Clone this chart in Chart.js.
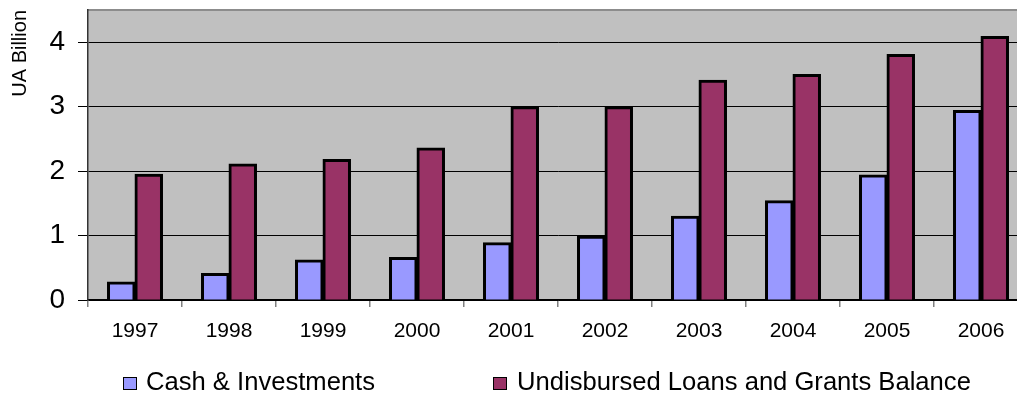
<!DOCTYPE html>
<html>
<head>
<meta charset="utf-8">
<script src="https://cdn.jsdelivr.net/npm/chart.js@4"></script>
<style>
    html, body {
        margin: 0;
        padding: 0;
        background: #fff;
        overflow: hidden;
    }

    #wrap {
        position: relative;
        width: 1030px;
        height: 394px;
    }

    .key-box {
        position: absolute;
        width: 12px;
        height: 11px;
        border: 1.5px solid #000;
    }

    .key-text {
        position: absolute;
        top: 369px;
        height: 25px;
        line-height: 25px;
        font-family: "Liberation Sans", Arial, sans-serif;
        font-size: 25.6px;
        color: #000;
        white-space: nowrap;
    }
</style>
</head>
<body>
<div id="wrap">
    <canvas id="chart"></canvas>
    <div id="key"></div>
</div>

<script>
    const years = ['1997', '1998', '1999', '2000', '2001', '2002', '2003', '2004', '2005', '2006'];
    const cashInvestments = [0.28, 0.41, 0.62, 0.66, 0.89, 0.99, 1.30, 1.54, 1.94, 2.94];
    const undisbursedBalance = [1.95, 2.11, 2.18, 2.36, 3.00, 3.00, 3.41, 3.50, 3.81, 4.09];
    const yTicks = [0, 1, 2, 3, 4];

    const seriesNames = ['Cash & Investments', 'Undisbursed Loans and Grants Balance'];
    const seriesColors = ['#9999FF', '#993366'];

    const FONT = '"Liberation Sans", Arial, sans-serif';

    // grey plot area with a thin grey rule along the top
    const plotBackground = {
        id: 'plotBackground',
        beforeDraw(chart) {
            const {ctx, chartArea: a} = chart;
            ctx.save();
            ctx.fillStyle = '#C0C0C0';
            ctx.fillRect(a.left, a.top, a.right - a.left, a.bottom - a.top);
            ctx.strokeStyle = '#8c8c8c';
            ctx.lineWidth = 2;
            ctx.beginPath();
            ctx.moveTo(a.left, a.top);
            ctx.lineTo(a.right, a.top);
            ctx.stroke();
            ctx.restore();
        }
    };

    const datasets = [cashInvestments, undisbursedBalance].map((values, i) => ({
        label: seriesNames[i],
        data: values,
        backgroundColor: seriesColors[i],
        borderColor: '#000',
        borderWidth: 3,
        inflateAmount: 0.5,
        barPercentage: 1,
        categoryPercentage: 0.585,
    }));

    new Chart(document.getElementById('chart'), {
        type: 'bar',
        data: {labels: years, datasets},
        plugins: [plotBackground],
        options: {
            responsive: true,
            maintainAspectRatio: false,
            animation: false,
            layout: {padding: {top: 10, right: 2, left: 0, bottom: 0}},
            plugins: {
                legend: {display: false},
                tooltip: {enabled: false},
            },
            scales: {
                x: {
                    afterFit: scale => { scale.height = 94; },
                    grid: {
                        offset: true,
                        drawOnChartArea: false,
                        tickLength: 7,
                        tickColor: '#808080',
                        lineWidth: 1.5,
                    },
                    border: {color: '#000', width: 1.5},
                    ticks: {
                        color: '#000',
                        padding: 12,
                        maxRotation: 0,
                        font: {family: FONT, size: 21},
                    },
                },
                y: {
                    min: 0,
                    max: 4.5,
                    afterFit: scale => {
                        scale.width = 88;
                        // the top label sits well below the plot edge, no extra room needed
                        scale.paddingTop = 0;
                        scale.paddingBottom = 0;
                    },
                    afterBuildTicks: scale => {
                        scale.ticks = yTicks.map(value => ({value}));
                    },
                    grid: {
                        color: '#000',
                        lineWidth: 1,
                        tickLength: 10,
                        tickColor: '#000',
                    },
                    border: {color: '#333', width: 1.5},
                    ticks: {
                        color: '#000',
                        padding: 13,
                        font: {family: FONT, size: 28},
                    },
                    title: {
                        display: true,
                        text: 'UA Billion',
                        align: 'end',
                        color: '#000',
                        padding: {top: 8, bottom: 0},
                        font: {family: FONT, size: 20},
                    },
                },
            },
        },
    });

    // legend below the axis
    const key = document.getElementById('key');
    const keyBoxX = [123, 493];
    const keyTextX = [146, 517];
    seriesNames.forEach((name, i) => {
        const box = document.createElement('div');
        box.className = 'key-box';
        box.style.left = keyBoxX[i] + 'px';
        box.style.top = '377px';
        box.style.background = seriesColors[i];
        key.appendChild(box);

        const text = document.createElement('div');
        text.className = 'key-text';
        text.style.left = keyTextX[i] + 'px';
        text.textContent = name;
        key.appendChild(text);
    });
</script>
</body>
</html>
